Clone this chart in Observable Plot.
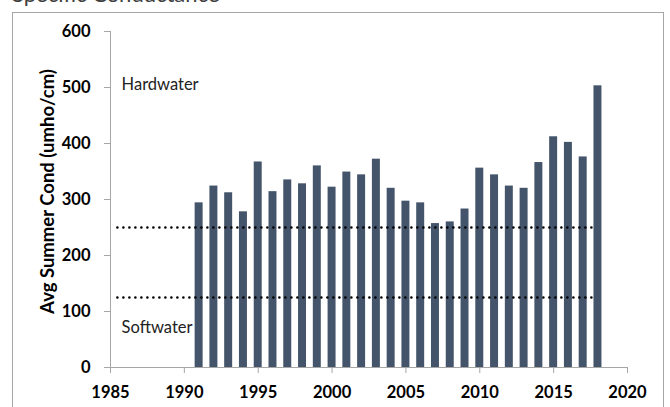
<!DOCTYPE html>
<html>
<head>
<meta charset="utf-8">
<script src="https://cdn.jsdelivr.net/npm/d3@7"></script>
<script src="https://cdn.jsdelivr.net/npm/@observablehq/plot@0.6"></script>
<style>
  html, body { margin: 0; padding: 0; background: #fff; overflow: hidden; }
  #wrap { position: relative; width: 670px; height: 407px; overflow: hidden; }
  #title { position: absolute; left: 12px; top: -17px; font: 22px Lato, sans-serif; line-height: 22px; color: #404040; white-space: nowrap; }
  #frame { position: absolute; left: 12px; top: 12px; width: 650px; height: 400px; border: 1px solid #a6a6a6; }
  #chart { position: absolute; left: 0; top: 0; }
</style>
</head>
<body>
<div id="wrap">
  <div id="title">Specific Conductance</div>
  <div id="frame"></div>
  <div id="chart"></div>
</div>
<script>
// ---- data ----
const years = [1991,1992,1993,1994,1995,1996,1997,1998,1999,2000,2001,2002,2003,2004,2005,2006,2007,2008,2009,2010,2011,2012,2013,2014,2015,2016,2017,2018];
const conductance = [294,324,312,278,367,314,335,328,360,322,349,344,372,320,297,294,257,260,283,356,344,324,320,366,412,402,376,503];
const thresholds = [250, 125];
const thresholdStart = 1985.5;
const thresholdEnd = 2017.8;
const zoneLabels = ["Hardwater", "Softwater"];
const zoneLabelX = [1985.75, 1985.75];
const zoneLabelY = [496, 61];
const xTicks = [1985,1990,1995,2000,2005,2010,2015,2020];
const yTicks = [0,100,200,300,400,500,600];
const yTitle = "Avg Summer Cond (umho/cm)";

const bars = years.map((year, i) => ({year, value: conductance[i]}));
const zones = zoneLabels.map((label, i) => ({label, x: zoneLabelX[i], y: zoneLabelY[i]}));
const halfBar = 0.27;

const chart = Plot.plot({
  width: 670,
  height: 407,
  marginLeft: 110,
  marginRight: 43,
  marginTop: 31,
  marginBottom: 40,
  style: {fontFamily: "Lato, sans-serif", background: "transparent", overflow: "visible"},
  x: {domain: [1985, 2020]},
  y: {domain: [0, 600]},
  marks: [
    Plot.rectY(bars, {x1: d => d.year - halfBar, x2: d => d.year + halfBar, y1: 0, y2: "value", fill: "#44546a"}),
    Plot.ruleY(thresholds, {x1: thresholdStart, x2: thresholdEnd, stroke: "#000", strokeWidth: 2.6, strokeDasharray: "0,6", strokeLinecap: "round"}),
    Plot.ruleX([1985], {y1: 0, y2: 600, stroke: "#a6a6a6"}),
    Plot.ruleY([0], {stroke: "#a6a6a6"}),
    Plot.axisY({ticks: yTicks, tickSize: 6, tickPadding: 14, stroke: "#a6a6a6", fill: "#000", fontSize: 16.5, fontWeight: "bold", label: null, tickFormat: d => String(d)}),
    Plot.axisX({ticks: xTicks, tickSize: 6, tickPadding: 13, stroke: "#a6a6a6", fill: "#000", fontSize: 16.5, fontWeight: "bold", label: null, tickFormat: d => String(d)}),
    Plot.text(zones, {x: "x", y: "y", text: "label", textAnchor: "start", lineAnchor: "bottom", fontSize: 16.5, fill: "#222"}),
    Plot.text([yTitle], {frameAnchor: "left", text: d => d, rotate: -90, dx: -62, dy: -8, lineAnchor: "middle", textAnchor: "middle", fontSize: 18.5, fontWeight: "bold", fill: "#000"})
  ]
});
document.getElementById("chart").appendChild(chart);
</script>
</body>
</html>
